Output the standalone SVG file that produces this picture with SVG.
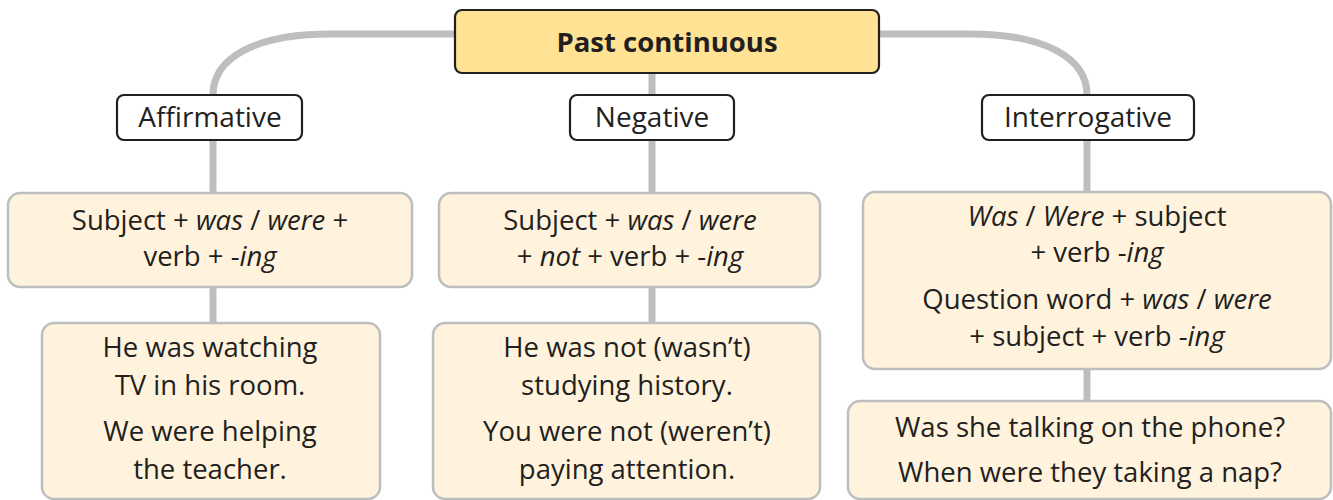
<svg xmlns="http://www.w3.org/2000/svg" width="1333" height="500" viewBox="0 0 1333 500">
<style>
.conn{fill:none;stroke:#BCBEC0;stroke-width:7}
.title{fill:#FFE294;stroke:#231F20;stroke-width:2.2}
.label{fill:#FFFFFF;stroke:#231F20;stroke-width:2.2}
.box{fill:#FFF3DD;stroke:#BCBEC0;stroke-width:2.5}
text{font-family:"Open Sans","Liberation Sans",sans-serif;font-size:27.5px;fill:#231F20;text-anchor:middle}
.t{font-weight:bold;font-size:27.5px}
.l{font-size:28px}
</style>
<rect width="1333" height="500" fill="#FFFFFF"/>
<g id="connectors">
<path class="conn" d="M455 34 H330 C255 34 213 58 213 95 V323"/>
<path class="conn" d="M879 34 H970 C1045 34 1087 58 1087 95 V401"/>
<path class="conn" d="M652 34 V323"/>
</g>
<g id="title">
<rect class="title" x="455" y="10" width="424" height="63" rx="7"/>
<text class="t" x="667" y="52">Past continuous</text>
</g>
<g id="affirmative">
<rect class="label" x="117" y="95" width="185" height="45" rx="7"/>
<text class="l" x="210" y="127">Affirmative</text>
</g>
<g id="negative">
<rect class="label" x="570" y="95" width="164" height="45" rx="7"/>
<text class="l" x="652" y="127">Negative</text>
</g>
<g id="interrogative">
<rect class="label" x="982" y="95" width="212" height="45" rx="7"/>
<text class="l" x="1088" y="127">Interrogative</text>
</g>
<g id="aff-rule">
<rect class="box" x="8" y="193" width="404" height="94" rx="12"/>
<text x="210" y="230">Subject + <tspan font-style="italic">was</tspan> / <tspan font-style="italic">were</tspan> +</text>
<text x="210" y="266">verb + -<tspan font-style="italic">ing</tspan></text>
</g>
<g id="neg-rule">
<rect class="box" x="439" y="193" width="381" height="94" rx="12"/>
<text x="630" y="230">Subject + <tspan font-style="italic">was</tspan> / <tspan font-style="italic">were</tspan></text>
<text x="630" y="266">+ <tspan font-style="italic">not</tspan> + verb + -<tspan font-style="italic">ing</tspan></text>
</g>
<g id="int-rule">
<rect class="box" x="863" y="192" width="468" height="177" rx="12"/>
<text x="1097" y="226"><tspan font-style="italic">Was</tspan> / <tspan font-style="italic">Were</tspan> + subject</text>
<text x="1097" y="262">+ verb -<tspan font-style="italic">ing</tspan></text>
<text x="1097" y="309">Question word + <tspan font-style="italic">was</tspan> / <tspan font-style="italic">were</tspan></text>
<text x="1097" y="346">+ subject + verb -<tspan font-style="italic">ing</tspan></text>
</g>
<g id="aff-examples">
<rect class="box" x="42" y="323" width="338" height="176" rx="12"/>
<text x="210" y="357">He was watching</text>
<text x="210" y="395">TV in his room.</text>
<text x="210" y="441">We were helping</text>
<text x="210" y="479">the teacher.</text>
</g>
<g id="neg-examples">
<rect class="box" x="433" y="323" width="387" height="176" rx="12"/>
<text x="627" y="357">He was not (wasn’t)</text>
<text x="627" y="395">studying history.</text>
<text x="627" y="441">You were not (weren’t)</text>
<text x="627" y="479">paying attention.</text>
</g>
<g id="int-examples">
<rect class="box" x="848" y="401" width="483" height="98" rx="12"/>
<text x="1090" y="437">Was she talking on the phone?</text>
<text x="1090" y="482">When were they taking a nap?</text>
</g>
</svg>
